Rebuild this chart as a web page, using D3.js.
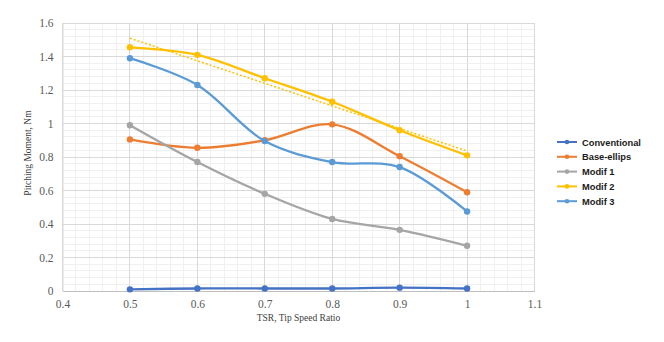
<!DOCTYPE html>
<html><head><meta charset="utf-8">
<script src="https://cdn.jsdelivr.net/npm/d3@7"></script>
<style>body{margin:0;background:#fff}</style>
</head><body>
<svg id="c" width="664" height="342"></svg>
<script>
const tsr = [0.5, 0.6, 0.7, 0.8, 0.9, 1.0];
const seriesNames = ["Conventional", "Base-ellips", "Modif 1", "Modif 2", "Modif 3"];
const conventional = [0.01, 0.015, 0.015, 0.015, 0.02, 0.015];
const baseEllips = [0.905, 0.855, 0.9, 0.995, 0.805, 0.59];
const modif1 = [0.99, 0.77, 0.58, 0.43, 0.365, 0.27];
const modif2 = [1.455, 1.41, 1.27, 1.13, 0.96, 0.81];
const modif3 = [1.39, 1.23, 0.895, 0.77, 0.74, 0.475];
const xTicks = [0.4, 0.5, 0.6, 0.7, 0.8, 0.9, 1.0, 1.1];
const yTicks = [0, 0.2, 0.4, 0.6, 0.8, 1.0, 1.2, 1.4, 1.6];
const colors = ["#4472C4", "#ED7D31", "#A5A5A5", "#FFC000", "#5B9BD5"];
const allSeries = [conventional, baseEllips, modif1, modif2, modif3];

const svg = d3.select("#c");
const L = 62.5, R = 534.5, T = 23, B = 291;
const x = d3.scaleLinear().domain([0.4, 1.1]).range([L, R]);
const y = d3.scaleLinear().domain([0, 1.6]).range([B, T]);

// minor grid
const xMinor = d3.range(0.4, 1.1001, 0.02);
const yMinor = d3.range(0, 1.6001, 0.04);
svg.append("g").selectAll("line").data(xMinor).join("line")
  .attr("x1", d => x(d)).attr("x2", d => x(d)).attr("y1", T).attr("y2", B)
  .attr("stroke", "#f0f0f0").attr("stroke-width", 1).attr("shape-rendering", "crispEdges");
svg.append("g").selectAll("line").data(yMinor).join("line")
  .attr("x1", L).attr("x2", R).attr("y1", d => y(d)).attr("y2", d => y(d))
  .attr("stroke", "#f0f0f0").attr("stroke-width", 1).attr("shape-rendering", "crispEdges");
// major grid
svg.append("g").selectAll("line").data(xTicks).join("line")
  .attr("x1", d => x(d)).attr("x2", d => x(d)).attr("y1", T).attr("y2", B)
  .attr("stroke", "#d9d9d9").attr("stroke-width", 1).attr("shape-rendering", "crispEdges");
svg.append("g").selectAll("line").data(yTicks).join("line")
  .attr("x1", L).attr("x2", R).attr("y1", d => y(d)).attr("y2", d => y(d))
  .attr("stroke", "#d9d9d9").attr("stroke-width", 1).attr("shape-rendering", "crispEdges");

// axes
const xAxis = d3.axisBottom(x).tickValues(xTicks).tickSize(0).tickPadding(9)
  .tickFormat(d => d3.format("")(+d.toFixed(1)));
const gx = svg.append("g").attr("transform", `translate(0,${B})`).call(xAxis);
gx.select(".domain").attr("stroke", "#bfbfbf");
gx.selectAll("text").attr("font-family", "Liberation Serif").attr("font-size", 11.5).attr("fill", "#595959");
const yAxis = d3.axisLeft(y).tickValues(yTicks).tickSize(0).tickPadding(9)
  .tickFormat(d => d3.format("")(+d.toFixed(1)));
const gy = svg.append("g").attr("transform", `translate(${L},0)`).call(yAxis);
gy.select(".domain").attr("stroke", "#d9d9d9");
gy.selectAll("text").attr("font-family", "Liberation Serif").attr("font-size", 11.5).attr("fill", "#595959");

// axis titles
svg.append("text").attr("x", (L + R) / 2).attr("y", 321).attr("text-anchor", "middle")
  .attr("font-family", "Liberation Serif").attr("font-size", 9.5).attr("fill", "#404040")
  .text("TSR, Tip Speed Ratio");
svg.append("text").attr("transform", `translate(31,153) rotate(-90)`).attr("text-anchor", "middle")
  .attr("font-family", "Liberation Serif").attr("font-size", 9.5).attr("fill", "#404040")
  .text("Pitching Moment, Nm");

// trendline for Modif 2 (linear regression)
const mx = d3.mean(tsr), my = d3.mean(modif2);
const slope = d3.sum(tsr.map((t, i) => (t - mx) * (modif2[i] - my))) / d3.sum(tsr.map(t => (t - mx) ** 2));
const icpt = my - slope * mx;
svg.append("line").attr("x1", x(0.5)).attr("x2", x(1.0))
  .attr("y1", y(icpt + slope * 0.5)).attr("y2", y(icpt + slope * 1.0))
  .attr("stroke", "#FFC000").attr("stroke-width", 1.5).attr("stroke-dasharray", "2,2");

// series
const line = d3.line().x((d, i) => x(tsr[i])).y(d => y(d)).curve(d3.curveCatmullRom.alpha(0.5));
allSeries.forEach((s, k) => {
  const g = svg.append("g");
  g.append("path").datum(s).attr("d", line).attr("fill", "none")
    .attr("stroke", colors[k]).attr("stroke-width", 2.3).attr("stroke-linecap", "round");
  g.selectAll("circle").data(s).join("circle")
    .attr("cx", (d, i) => x(tsr[i])).attr("cy", d => y(d)).attr("r", 3.2).attr("fill", colors[k]);
});

// legend
const lg = svg.append("g");
seriesNames.forEach((n, k) => {
  const yy = 142 + k * 14.8;
  lg.append("line").attr("x1", 557).attr("x2", 577).attr("y1", yy).attr("y2", yy)
    .attr("stroke", colors[k]).attr("stroke-width", 2);
  lg.append("circle").attr("cx", 567).attr("cy", yy).attr("r", 2.3).attr("fill", colors[k]);
  lg.append("text").attr("x", 582).attr("y", yy + 3.5)
    .attr("font-family", "Liberation Sans").attr("font-weight", "bold").attr("font-size", 9.3)
    .attr("fill", "#1a1a1a").text(n);
});
</script>
</body></html>
